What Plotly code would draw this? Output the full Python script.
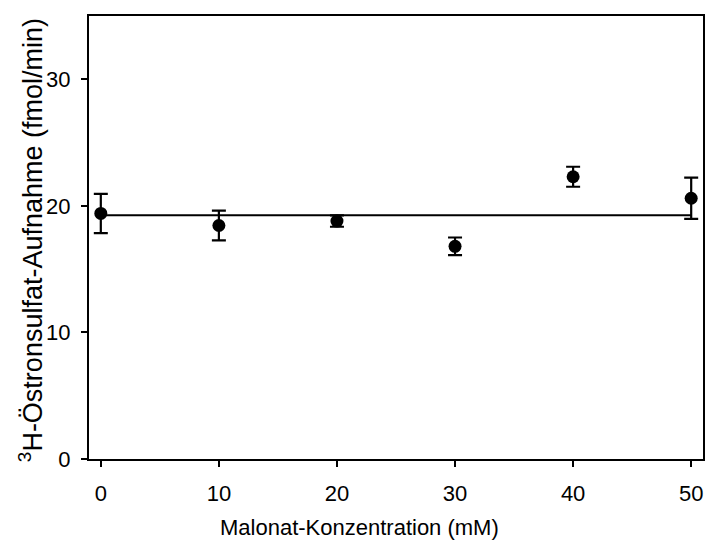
import plotly.graph_objects as go

conc = [0, 10, 20, 30, 40, 50]
uptake = [19.4, 18.45, 18.8, 16.8, 22.3, 20.6]
err = [1.55, 1.18, 0.45, 0.7, 0.79, 1.63]
fit_x = [0, 50]
fit_y = [19.25, 19.25]
x_ticks = [0, 10, 20, 30, 40, 50]
y_ticks = [0, 10, 20, 30]

FONT = "Liberation Sans, Arial, sans-serif"

fig = go.Figure()
fig.add_trace(go.Scatter(x=fit_x, y=fit_y, mode="lines",
                         line=dict(color="black", width=2), showlegend=False))
fig.add_trace(go.Scatter(x=conc, y=uptake, mode="markers",
                         marker=dict(color="black", size=13),
                         error_y=dict(type="data", array=err, color="black",
                                      thickness=2.2, width=7),
                         showlegend=False))

fig.update_layout(
    width=706, height=548,
    margin=dict(l=89, r=3, t=16, b=89),
    plot_bgcolor="white", paper_bgcolor="white",
    font=dict(family=FONT, color="black", size=22),
    xaxis=dict(range=[-1, 51], tickvals=x_ticks, showgrid=False, zeroline=False,
               showline=True, linecolor="black", linewidth=2, mirror=True,
               ticks="outside", ticklen=6, tickwidth=2, tickcolor="black",
               tickfont=dict(size=22), ticklabelstandoff=8, automargin=False),
    yaxis=dict(range=[0, 35], tickvals=y_ticks, showgrid=False, zeroline=False,
               showline=True, linecolor="black", linewidth=2, mirror=True,
               ticks="outside", ticklen=6, tickwidth=2, tickcolor="black",
               tickfont=dict(size=22), ticklabelstandoff=6, automargin=False),
    annotations=[
        dict(text="Malonat-Konzentration (mM)", xref="paper", yref="paper",
             x=0.441, y=-0.1535, xanchor="center", yanchor="middle",
             showarrow=False, font=dict(size=22)),
        dict(text="<sup>3</sup>H-Östronsulfat-Aufnahme (fmol/min)", xref="paper",
             yref="paper", x=-0.0945, y=0.494, xanchor="center", yanchor="middle",
             textangle=-90, showarrow=False, font=dict(size=27)),
    ],
)

fig.write_html("out.html", config={"displayModeBar": False},
               post_script="document.body.style.margin='0';document.body.style.padding='0';")
